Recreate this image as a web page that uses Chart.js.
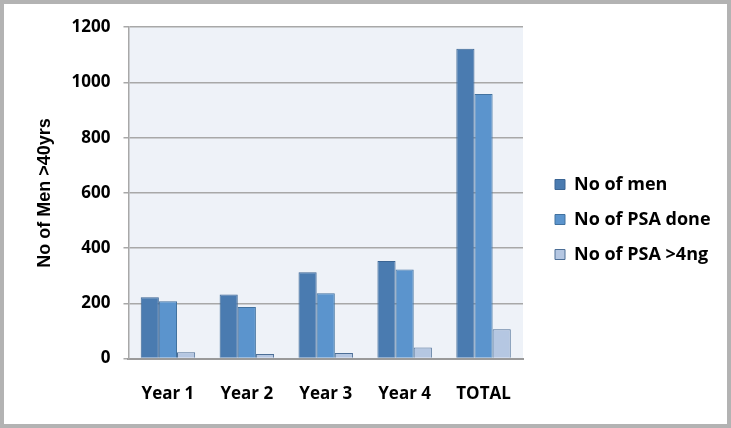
<!DOCTYPE html>
<html>
<head>
<meta charset="utf-8">
<script src="https://cdn.jsdelivr.net/npm/chart.js@4.4.0/dist/chart.umd.min.js"></script>
<style>
  html, body { margin: 0; padding: 0; background: #fff; }
  #frame { width: 731px; height: 428px; box-sizing: border-box; border: 4px solid #b3b3b3; background: #fff; }
  #wrap { position: relative; width: 723px; height: 420px; }
</style>
</head>
<body>
<div id="frame"><div id="wrap"><canvas id="c"></canvas></div></div>
<script>
var categories = ["Year 1", "Year 2", "Year 3", "Year 4", "TOTAL"];
var noOfMen = [222, 232, 313, 353, 1122];
var noOfPsaDone = [208, 187, 237, 323, 958];
var noOfPsaOver4 = [23, 17, 20, 40, 106];
var yTicks = [0, 200, 400, 600, 800, 1000, 1200];

// light blue fill behind the plot
var plotBg = {
  id: "plotBg",
  beforeDraw: function (chart) {
    var ca = chart.chartArea;
    var ctx = chart.ctx;
    ctx.save();
    ctx.fillStyle = "#eef2f8";
    ctx.fillRect(ca.left, ca.top, ca.right - ca.left, ca.bottom - ca.top);
    ctx.restore();
  }
};

// push the legend away from the plot and a little lower
var legendShift = {
  id: "legendShift",
  afterLayout: function (chart) {
    var lg = chart.legend;
    lg.left += 15;
    lg.right += 45;
    lg.top += 5;
    lg.bottom += 5;
  }
};

var tickFont = { family: "Open Sans", size: 17, weight: "bold" };
var legendFont = { family: "Open Sans", size: 18, weight: "bold" };

new Chart(document.getElementById("c"), {
  type: "bar",
  data: {
    labels: categories,
    datasets: [
      {
        label: "No of men",
        data: noOfMen,
        backgroundColor: "#4a7bb0",
        borderColor: "#3b6594",
        borderWidth: 1
      },
      {
        label: "No of PSA done",
        data: noOfPsaDone,
        backgroundColor: "#5b94cd",
        borderColor: "#42729f",
        borderWidth: 1
      },
      {
        label: "No of PSA >4ng",
        data: noOfPsaOver4,
        backgroundColor: "#b5c7e2",
        borderColor: "#4c6e96",
        borderWidth: 1
      }
    ]
  },
  options: {
    responsive: true,
    maintainAspectRatio: false,
    animation: false,
    layout: { padding: { top: 4, right: 41, left: 30, bottom: 3 } },
    datasets: { bar: { categoryPercentage: 0.69, barPercentage: 1.0 } },
    plugins: {
      legend: {
        position: "right",
        labels: {
          font: legendFont,
          color: "#000",
          boxWidth: 10,
          boxHeight: 10,
          padding: 17
        }
      },
      tooltip: { enabled: false }
    },
    scales: {
      x: {
        grid: { display: false },
        border: { color: "#9a9a9a", width: 2 },
        ticks: { font: tickFont, color: "#000", padding: 17 }
      },
      y: {
        min: 0,
        max: 1200,
        afterBuildTicks: function (axis) {
          axis.ticks = yTicks.map(function (v) { return { value: v }; });
        },
        grid: { color: "#a8a8a8", lineWidth: 1.5, tickLength: 5 },
        border: { color: "#a8a8a8", width: 1.5 },
        ticks: {
          font: tickFont,
          color: "#000",
          padding: 13,
          callback: function (v) { return String(v); }
        },
        title: {
          display: true,
          text: "No of Men >40yrs",
          font: { family: "Liberation Sans", size: 18, weight: "bold" },
          color: "#000",
          padding: { top: 0, bottom: 3 }
        }
      }
    }
  },
  plugins: [plotBg, legendShift]
});
</script>
</body>
</html>
